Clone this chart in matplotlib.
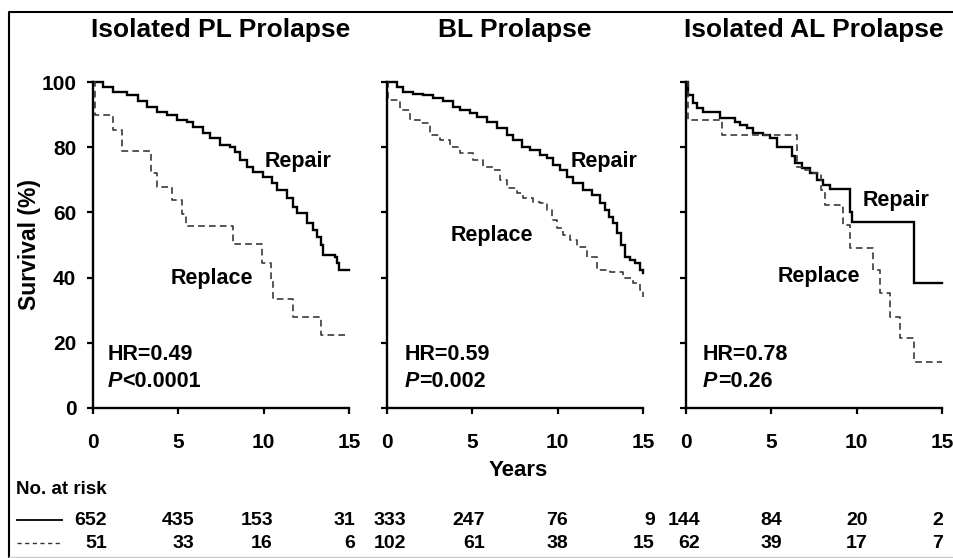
import matplotlib
matplotlib.use("Agg")
import matplotlib.pyplot as plt
from matplotlib.lines import Line2D

plt.rcParams['font.family'] = ['Liberation Sans', 'DejaVu Sans']

W, H = 954, 558

# ---------------- data ----------------
titles = ["Isolated PL Prolapse", "BL Prolapse", "Isolated AL Prolapse"]
hr_text = ["HR=0.49", "HR=0.59", "HR=0.78"]
p_sym = ["<", "=", "="]
p_val = ["0.0001", "0.002", "0.26"]

pl_repair_t = [0, 0.61, 1.19, 1.97, 2.66, 3.14, 3.73, 4.32, 4.9, 5.49, 5.88, 6.46, 6.86,
               7.44, 8.03, 8.32, 8.61, 9.0, 9.39, 9.98, 10.47, 10.76, 11.35, 11.74,
               11.93, 12.52, 12.91, 13.14, 13.34, 13.5, 14.18, 14.32, 14.43, 15]
pl_repair_s = [100, 98.7, 97.1, 96.1, 94.1, 92.5, 91.0, 90.0, 88.4, 87.9, 86.4, 84.3, 82.8,
               80.7, 80.2, 78.7, 76.1, 74.1, 72.5, 71.0, 69.0, 66.9, 64.3, 61.8,
               59.7, 56.7, 54.6, 52.6, 50.0, 46.9, 46.4, 44.4, 42.3, 42.3]
pl_replace_t = [0, 0.1, 1.19, 1.68, 3.38, 3.73, 4.61, 5.2, 5.45, 8.22, 9.88, 10.41,
                10.57, 11.7, 13.34, 15]
pl_replace_s = [100, 90.0, 85.3, 78.9, 72.0, 67.7, 63.8, 59.5, 55.8, 50.2, 44.6, 39.0,
                33.3, 28.0, 22.3, 22.3]

bl_repair_t = [0, 0.57, 0.96, 1.54, 2.13, 2.71, 3.3, 3.89, 4.28, 4.86, 5.25, 5.84, 6.43,
               7.01, 7.4, 7.89, 8.38, 8.96, 9.36, 9.75, 10.14, 10.53, 10.92, 11.5, 11.99,
               12.48, 12.77, 13.03, 13.26, 13.46, 13.69, 13.95, 14.24, 14.53, 14.82, 15]
bl_repair_s = [100, 98.7, 97.1, 96.4, 96.1, 95.1, 94.1, 92.5, 91.5, 90.7, 89.4, 87.9, 85.9,
               83.8, 82.3, 80.2, 79.2, 77.7, 76.6, 74.6, 73.1, 71.0, 69.0, 66.9, 65.4,
               62.8, 60.8, 58.7, 56.7, 53.6, 50.0, 46.4, 45.4, 44.4, 42.3, 41.3]
bl_replace_t = [0, 0.08, 0.76, 1.35, 1.93, 2.52, 3.11, 3.69, 4.28, 5.06, 5.64, 6.23, 6.62,
                7.01, 7.6, 7.99, 8.57, 8.96, 9.36, 9.65, 9.94, 10.33, 10.72, 11.11, 11.7,
                12.29, 13.07, 13.85, 14.43, 14.82, 15]
bl_replace_s = [100, 94.6, 91.5, 88.4, 87.4, 83.8, 82.3, 80.2, 78.2, 76.1, 74.1, 73.1, 70.0,
                67.4, 65.9, 64.3, 63.3, 62.8, 60.8, 57.7, 55.1, 53.1, 51.5, 49.5, 46.4,
                42.3, 41.8, 39.8, 38.2, 36.2, 34.0]

al_repair_t = [0, 0.14, 0.43, 0.62, 1.02, 1.99, 2.87, 3.16, 3.55, 3.95, 4.53, 4.92, 5.31,
               6.19, 6.39, 6.78, 7.27, 7.66, 8.05, 8.44, 9.61, 9.71, 13.38, 15]
al_repair_s = [100, 96.1, 93.5, 92.0, 91.0, 88.9, 87.9, 86.9, 85.9, 84.3, 83.8, 82.8, 80.2,
               77.2, 75.1, 73.6, 72.0, 70.0, 68.4, 67.2, 60.2, 57.2, 38.2, 38.2]
al_replace_t = [0, 0.1, 2.09, 6.48, 6.97, 7.46, 7.9, 8.13, 9.22, 9.61, 10.97, 11.37, 11.95,
                12.54, 13.38, 15]
al_replace_s = [100, 88.4, 83.8, 74.1, 73.1, 72.0, 67.0, 62.3, 56.1, 49.0, 42.3, 35.1, 28.0,
                21.3, 14.1, 14.1]

repair_t = [pl_repair_t, bl_repair_t, al_repair_t]
repair_s = [pl_repair_s, bl_repair_s, al_repair_s]
replace_t = [pl_replace_t, bl_replace_t, al_replace_t]
replace_s = [pl_replace_s, bl_replace_s, al_replace_s]

risk_repair = [[652, 435, 153, 31], [333, 247, 76, 9], [144, 84, 20, 2]]
risk_replace = [[51, 33, 16, 6], [102, 61, 38, 15], [62, 39, 17, 7]]

x_ticks = [0, 5, 10, 15]
y_ticks = [0, 20, 40, 60, 80, 100]

# ---------------- layout ----------------
ax_left_px = [93, 387, 686]
ax_w_px = 256
ax_top_px, ax_bot_px = 82.3, 407.7
repair_lbl = [(12.04, 75.8), (12.74, 75.8), (12.33, 63.8)]
replace_lbl = [(6.94, 39.7), (6.12, 52.8), (7.79, 40.3)]
stat_x = [0.88, 1.05, 1.0]
risk_cols_px = [107, 194, 273, 355, 406, 485, 568, 655, 700, 782, 868, 943]

fig = plt.figure(figsize=(W / 100, H / 100), dpi=100)

def fx(px):
    return px / W

def fy(py):
    return 1 - py / H

for i in range(3):
    ax = fig.add_axes([fx(ax_left_px[i]), fy(ax_bot_px), ax_w_px / W,
                       (ax_bot_px - ax_top_px) / H])
    ax.step(repair_t[i], repair_s[i], where='post', color='black', lw=1.7,
            clip_on=False, solid_joinstyle='miter')
    ax.step(replace_t[i], replace_s[i], where='post', color='#3a3a3a', lw=1.2,
            dashes=(4, 2.5), clip_on=False)
    ax.set_xlim(0, 15)
    ax.set_ylim(0, 100)
    ax.set_xticks(x_ticks)
    ax.set_yticks(y_ticks)
    for s in ['top', 'right']:
        ax.spines[s].set_visible(False)
    for s in ['left', 'bottom']:
        ax.spines[s].set_linewidth(1.7)
    ax.tick_params(direction='out', length=4, width=1.6, labelsize=15)
    ax.tick_params(axis='x', pad=14)
    ax.tick_params(axis='y', pad=8)
    for lab in ax.get_xticklabels() + ax.get_yticklabels():
        lab.set_fontweight('bold')
    if i > 0:
        ax.set_yticklabels([])
    else:
        ax.set_yticklabels([str(v) for v in y_ticks])
    ax.annotate(titles[i], xy=(0.5, 1), xycoords='axes fraction',
                xytext=(0, 38), textcoords='offset points', ha='center',
                va='center', fontsize=19, fontweight='bold')
    ax.text(*repair_lbl[i], "Repair", ha='center', va='center', fontsize=15.5,
            fontweight='bold')
    ax.text(*replace_lbl[i], "Replace", ha='center', va='center', fontsize=15.5,
            fontweight='bold')
    ax.text(stat_x[i], 16.2, hr_text[i], ha='left', va='center', fontsize=15.5,
            fontweight='bold')
    ax.text(stat_x[i], 8.2, "P", ha='left', va='center', fontsize=15.5,
            fontweight='bold', fontstyle='italic')
    ax.annotate(p_sym[i] + p_val[i], xy=(stat_x[i], 8.2), xycoords='data',
                xytext=(10.5, 0), textcoords='offset points', ha='left',
                va='center', fontsize=15.5, fontweight='bold')

fig.text(fx(30), fy(244), "Survival (%)", rotation=90, ha='center', va='center',
         fontsize=16.5, fontweight='bold')
fig.text(fx(518), fy(471), "Years", ha='center', va='center', fontsize=16,
         fontweight='bold')
fig.text(fx(16), fy(489), "No. at risk", ha='left', va='center', fontsize=13.5,
         fontweight='bold')

row1 = [v for grp in risk_repair for v in grp]
row2 = [v for grp in risk_replace for v in grp]
for j, px in enumerate(risk_cols_px):
    fig.text(fx(px), fy(520.7), str(row1[j]), ha='right', va='center',
             fontsize=14, fontweight='bold')
    fig.text(fx(px), fy(543), str(row2[j]), ha='right', va='center',
             fontsize=14, fontweight='bold')

fig.add_artist(Line2D([fx(17), fx(62)], [fy(520), fy(520)], color='black', lw=1.3))
fig.add_artist(Line2D([fx(17), fx(62)], [fy(543), fy(543)], color='#333333', lw=1.0,
                      dashes=(3, 2.5)))

# frame
fig.add_artist(Line2D([fx(9), fx(9), fx(954)], [fy(558), fy(12), fy(12)],
                      color='black', lw=1.5))
fig.add_artist(Line2D([fx(9), fx(954)], [fy(556.5), fy(556.5)], color='#cccccc', lw=1.0))

fig.savefig("out.png", dpi=100)
